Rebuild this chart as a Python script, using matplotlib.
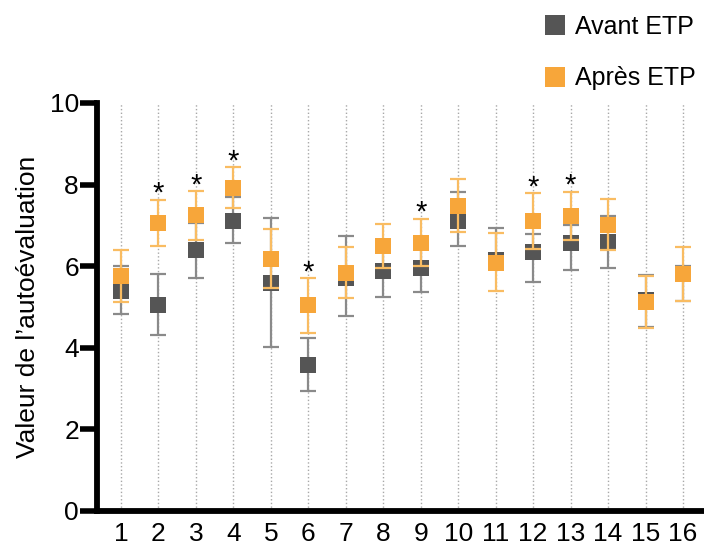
import matplotlib
matplotlib.use("Agg")
import matplotlib.pyplot as plt
from matplotlib.lines import Line2D

plt.rcParams['font.family'] = ['Liberation Sans', 'DejaVu Sans']

categories = list(range(1, 17))
avant_mean = [5.40, 5.06, 6.39, 7.12, 5.59, 3.59, 5.72, 5.88, 5.96, 7.12, 6.15, 6.36, 6.58, 6.59, 5.16, 5.82]
avant_upper = [6.00, 5.81, 7.05, 7.70, 7.18, 4.23, 6.74, 6.40, 6.50, 7.83, 6.94, 6.80, 7.00, 7.24, 5.78, 6.00]
avant_lower = [4.83, 4.31, 5.70, 6.56, 4.03, 2.95, 4.79, 5.24, 5.37, 6.50, 5.95, 5.62, 5.91, 5.95, 4.52, 5.15]
apres_mean = [5.77, 7.06, 7.25, 7.91, 6.18, 5.04, 5.83, 6.50, 6.58, 7.48, 6.09, 7.11, 7.22, 7.01, 5.12, 5.80]
apres_upper = [6.39, 7.63, 7.84, 8.42, 6.91, 5.70, 6.47, 7.04, 7.16, 8.13, 6.81, 7.79, 7.82, 7.64, 5.77, 6.46]
apres_lower = [5.12, 6.50, 6.65, 7.42, 5.47, 4.37, 5.21, 5.96, 6.01, 6.83, 5.38, 6.42, 6.63, 6.40, 4.48, 5.15]
significant = [False, True, True, True, False, True, False, False, True, False, False, True, True, False, False, False]
labels = ["Avant ETP", "Après ETP"]

gray = "#555555"
gray_bar = "#8a8a8a"
orange = "#F7A63A"
orange_bar = "#F9BC62"

fig = plt.figure(figsize=(7.04, 5.47), dpi=100)
ax = fig.add_axes([97/704, 36/547, 1 - 97/704, (511-103)/547])

def draw(mean, lo, hi, mc, bc, z):
    yerr = [[m - l for m, l in zip(mean, lo)], [h - m for m, h in zip(mean, hi)]]
    ax.errorbar(categories, mean, yerr=yerr, fmt='none', ecolor=bc,
                elinewidth=1.6, capsize=6, capthick=1.6, zorder=z)
    ax.plot(categories, mean, linestyle='none', marker='s', color=mc,
            markersize=11.7, markeredgewidth=0, zorder=z + 0.5)

draw(avant_mean, avant_lower, avant_upper, gray, gray_bar, 3)
draw(apres_mean, apres_lower, apres_upper, orange, orange_bar, 4)

for x, top, s in zip(categories, apres_upper, significant):
    if s:
        ax.annotate('*', (x, top), xytext=(0, -1.5), textcoords='offset points',
                    ha='center', va='baseline', fontsize=21, color='black', zorder=6)

ax.set_xlim(0.36, 16.56)
ax.set_ylim(0, 10)
ax.set_xticks(categories)
ax.set_xticklabels([str(c) for c in categories])
ax.set_yticks([0, 2, 4, 6, 8, 10])
ax.tick_params(axis='x', length=0, pad=8, labelsize=19)
ax.tick_params(axis='y', length=12, width=4, pad=1, labelsize=19)
ax.xaxis.grid(True, linestyle=':', color='#a8a8a8', linewidth=1)
ax.set_axisbelow(True)
for sp in ['top', 'right']:
    ax.spines[sp].set_visible(False)
for sp in ['left', 'bottom']:
    ax.spines[sp].set_linewidth(4.2)
ax.set_ylabel("Valeur de l\u2019autoévaluation", fontsize=19, labelpad=7)

handles = [Line2D([], [], marker='s', linestyle='none', color=gray, markersize=15, markeredgewidth=0),
           Line2D([], [], marker='s', linestyle='none', color=orange, markersize=15, markeredgewidth=0)]
fig.legend(handles, labels, loc='upper left', bbox_to_anchor=(545/704, 1 - 15/547),
           frameon=False, fontsize=18, borderpad=0, borderaxespad=0,
           handlelength=0.8, handletextpad=0.4, labelspacing=1.1)

fig.savefig("out.png", dpi=100)
